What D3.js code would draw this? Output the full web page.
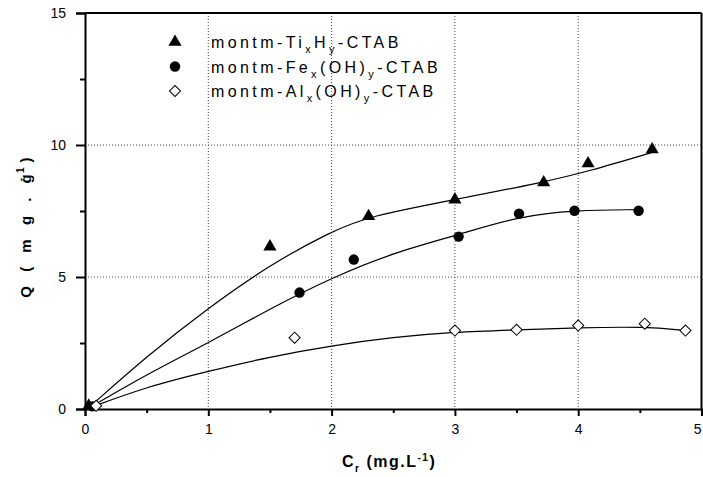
<!DOCTYPE html>
<html>
<head>
<meta charset="utf-8">
<script src="https://cdn.jsdelivr.net/npm/d3@7"></script>
<style>
  body { margin: 0; background: #fff; }
  text { font-family: Arial, "Liberation Sans", sans-serif; fill: #000; }
</style>
</head>
<body>
<div id="chart"></div>
<script>
// measured points (Cr, Q)
var tiX = [0.03, 1.50, 2.30, 3.00, 3.72, 4.08, 4.60];
var tiY = [0.12, 6.15, 7.30, 7.93, 8.58, 9.30, 9.83];
var feX = [0.06, 1.74, 2.18, 3.03, 3.52, 3.97, 4.49];
var feY = [0.10, 4.41, 5.66, 6.53, 7.40, 7.51, 7.51];
var alX = [0.09, 1.70, 3.00, 3.50, 4.00, 4.54, 4.87];
var alY = [0.12, 2.70, 2.97, 3.00, 3.16, 3.23, 2.97];

// fitted curves
var tiFitX = [0.03, 0.5, 1.0, 1.5, 2.0, 2.3, 3.0, 3.72, 4.08, 4.6];
var tiFitY = [0.05, 2.0, 3.83, 5.47, 6.73, 7.3, 7.93, 8.59, 9.0, 9.72];
var feFitX = [0.03, 0.5, 1.0, 1.5, 2.0, 2.5, 3.03, 3.52, 3.97, 4.49];
var feFitY = [0.03, 1.31, 2.5, 3.8, 4.97, 5.92, 6.6, 7.3, 7.53, 7.55];
var alFitX = [0.03, 0.5, 1.0, 1.5, 2.0, 2.5, 3.0, 3.5, 4.0, 4.54, 4.87];
var alFitY = [0.03, 0.84, 1.43, 1.98, 2.4, 2.72, 2.92, 3.0, 3.08, 3.12, 2.97];

var xTicks = [0, 1, 2, 3, 4, 5];
var yTicks = [0, 5, 10, 15];

var W = 703, H = 477;
var margin = {left: 85, top: 13, right: 1.5, bottom: 68};
var width = W - margin.left - margin.right,
    height = H - margin.top - margin.bottom;

var svg = d3.select("#chart").append("svg")
  .attr("width", W).attr("height", H);
var g = svg.append("g")
  .attr("transform", "translate(" + margin.left + "," + margin.top + ")");

var x = d3.scaleLinear().domain([0, 5]).range([0, width]);
var y = d3.scaleLinear().domain([0, 15]).range([height, 0]);

// dotted grid
g.selectAll(".gx").data([1, 2, 3, 4]).enter().append("line")
  .attr("x1", d => x(d)).attr("x2", d => x(d))
  .attr("y1", 0).attr("y2", height)
  .attr("stroke", "#444").attr("stroke-width", 1).attr("stroke-dasharray", "1,2");
g.selectAll(".gy").data([5, 10]).enter().append("line")
  .attr("x1", 0).attr("x2", width)
  .attr("y1", d => y(d)).attr("y2", d => y(d))
  .attr("stroke", "#444").attr("stroke-width", 1).attr("stroke-dasharray", "1,2");

// frame top / right
g.append("line").attr("x1", 0).attr("x2", width).attr("y1", 0).attr("y2", 0)
  .attr("stroke", "#000").attr("stroke-width", 2);
g.append("line").attr("x1", width).attr("x2", width).attr("y1", 0).attr("y2", height)
  .attr("stroke", "#000").attr("stroke-width", 2);

// axes
var xMinor = g.append("g").attr("transform", "translate(0," + height + ")")
  .call(d3.axisBottom(x).tickValues([0.5, 1.5, 2.5, 3.5, 4.5]).tickSize(4).tickFormat(""));
var xAxis = g.append("g").attr("transform", "translate(0," + height + ")")
  .call(d3.axisBottom(x).tickValues(xTicks).tickSize(7).tickPadding(8).tickFormat(d3.format("d")));
var yMinor = g.append("g")
  .call(d3.axisLeft(y).tickValues([2.5, 7.5, 12.5]).tickSize(5).tickFormat(""));
var yAxis = g.append("g")
  .call(d3.axisLeft(y).tickValues(yTicks).tickSize(9).tickPadding(10).tickFormat(d3.format("d")));

[xMinor, xAxis, yMinor, yAxis].forEach(function(a) {
  a.select(".domain").attr("stroke-width", 2).attr("stroke", "#000");
  a.selectAll(".tick line").attr("stroke-width", 2).attr("stroke", "#000");
  a.selectAll("text").style("font-size", "14px").style("font-family", "Arial, 'Liberation Sans', sans-serif");
});
xMinor.select(".domain").remove();
yMinor.select(".domain").remove();
// last label sits at the window edge, keep it inside
xAxis.selectAll(".tick text").filter(d => d === 5).attr("text-anchor", "end").attr("dx", -0.5);

// curves
var line = d3.line().x(d => x(d[0])).y(d => y(d[1])).curve(d3.curveBasis);
[[tiFitX, tiFitY], [feFitX, feFitY], [alFitX, alFitY]].forEach(function(s) {
  g.append("path")
    .datum(d3.zip(s[0], s[1]))
    .attr("d", line)
    .attr("fill", "none").attr("stroke", "#000").attr("stroke-width", 1.2);
});

// markers
var tri = d3.symbol().type(d3.symbolTriangle).size(75);
var circ = d3.symbol().type(d3.symbolCircle).size(85);
var dia = d3.symbol().type(d3.symbolSquare).size(62);

g.selectAll(".ti").data(d3.zip(tiX, tiY)).enter().append("path")
  .attr("d", tri).attr("fill", "#000")
  .attr("transform", d => "translate(" + x(d[0]) + "," + y(d[1]) + ")");
g.selectAll(".fe").data(d3.zip(feX, feY)).enter().append("path")
  .attr("d", circ).attr("fill", "#000")
  .attr("transform", d => "translate(" + x(d[0]) + "," + y(d[1]) + ")");
g.selectAll(".al").data(d3.zip(alX, alY)).enter().append("path")
  .attr("d", dia).attr("fill", "#fff").attr("stroke", "#000").attr("stroke-width", 1)
  .attr("transform", d => "translate(" + x(d[0]) + "," + y(d[1]) + ") rotate(45)");

// legend
var legend = [
  {sym: tri, fill: "#000", rot: 0, parts: [["montm-Ti", 0], ["x", 1], ["H", 0], ["y", 1], ["-CTAB", 0]]},
  {sym: circ, fill: "#000", rot: 0, parts: [["montm-Fe", 0], ["x", 1], ["(OH)", 0], ["y", 1], ["-CTAB", 0]]},
  {sym: dia, fill: "#fff", rot: 45, parts: [["montm-Al", 0], ["x", 1], ["(OH)", 0], ["y", 1], ["-CTAB", 0]]}
];
legend.forEach(function(l, i) {
  var cy = 42 + i * 24.5;
  svg.append("path").attr("d", l.sym).attr("fill", l.fill)
    .attr("stroke", l.fill === "#fff" ? "#000" : "none")
    .attr("transform", "translate(175," + cy + ") rotate(" + l.rot + ")");
  var t = svg.append("text").attr("x", 211).attr("y", cy + 6)
    .style("font-size", "16px").style("letter-spacing", "3.4px");
  l.parts.forEach(function(p, k) {
    var prev = k > 0 ? l.parts[k - 1][1] : 0;
    var ts = t.append("tspan").text(p[0])
      .attr("dy", p[1] && !prev ? 5 : (!p[1] && prev ? -5 : 0));
    if (p[1]) ts.style("font-size", "11px");
  });
});

// axis titles
var xt = svg.append("text").attr("x", 342).attr("y", 467)
  .style("font-size", "16px").style("font-weight", "bold").style("letter-spacing", "1.5px");
xt.append("tspan").text("C");
xt.append("tspan").text("r").attr("dy", 5).style("font-size", "10px");
xt.append("tspan").text(" (mg.L").attr("dy", -5);
xt.append("tspan").text("-1").attr("dy", -6).style("font-size", "10px");
xt.append("tspan").text(")").attr("dy", 6);

var yt = svg.append("text")
  .attr("transform", "translate(31,225) rotate(-90)")
  .attr("text-anchor", "middle")
  .style("font-size", "15px").style("font-weight", "bold").style("letter-spacing", "5px");
yt.append("tspan").text("Q ( m g . g");
yt.append("tspan").text("-1").attr("dy", -7).attr("dx", -12).style("font-size", "10px");
yt.append("tspan").text(")").attr("dy", 7);
</script>
</body>
</html>
